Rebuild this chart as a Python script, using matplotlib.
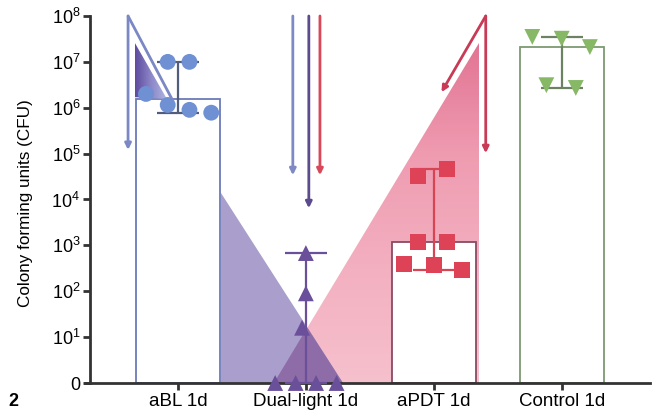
import numpy as np
import matplotlib
matplotlib.use('Agg')
import matplotlib.pyplot as plt
from matplotlib.patches import Polygon
from matplotlib.colors import LinearSegmentedColormap

plt.rcParams['font.family'] = ['Liberation Sans', 'DejaVu Sans']
plt.rcParams['mathtext.fontset'] = 'custom'
plt.rcParams['mathtext.rm'] = 'Liberation Sans'

# data (CFU per replicate)
categories = ['aBL 1d', 'Dual-light 1d', 'aPDT 1d', 'Control 1d']
abl = [1.0e7, 1.0e7, 2.0e6, 1.15e6, 9.0e5, 7.8e5]
dual = [0, 0, 0, 0, 16, 90, 680]
apdt = [3.2e4, 4.6e4, 1.2e3, 1.2e3, 390, 380, 290]
control = [3.5e7, 3.2e7, 2.1e7, 3.1e6, 2.7e6]
groups = [abl, dual, apdt, control]

# horizontal scatter of the replicate points
abl_dx = [-0.08, 0.09, -0.25, -0.08, 0.09, 0.26]
dual_dx = [-0.24, -0.08, 0.08, 0.24, -0.03, 0.0, 0.0]
apdt_dx = [-0.125, 0.10, -0.125, 0.10, -0.23, 0.0, 0.22]
control_dx = [-0.23, 0.0, 0.22, -0.12, 0.11]
offsets = [abl_dx, dual_dx, apdt_dx, control_dx]

markers = ['o', '^', 's', 'v']
pt_colors = ['#7090d4', '#6a4f9a', '#de4257', '#86b866']
bar_edges = ['#6c7ab8', '#6a4f9a', '#8a4a62', '#7d9a72']
err_colors = ['#525c7c', '#6a4f9a', '#d84552', '#6c8262']


def lg(v):
    return np.log10(np.maximum(np.asarray(v, dtype=float), 1.0))


def cross(p1, p2, p3, p4):
    # intersection of line p1-p2 with line p3-p4
    (x1, y1), (x2, y2), (x3, y3), (x4, y4) = p1, p2, p3, p4
    d = (x1-x2)*(y3-y4) - (y1-y2)*(x3-x4)
    t = ((x1-x3)*(y3-y4) - (y1-y3)*(x3-x4)) / d
    return [x1 + t*(x2-x1), y1 + t*(y2-y1)]


fig = plt.figure(figsize=(6.57, 4.19), dpi=100)
ax = fig.add_axes([90/657, 1-383/419, (650-90)/657, (383-16)/419])
ax.set_xlim(-0.6875, 3.69)
ax.set_ylim(0, 8)

# pink light cone (gradient, darker toward the apex)
pk_top, pk_base = [2.35, 7.41], [0.75, 0]
pink = LinearSegmentedColormap.from_list('pk', ['#f6c0cd', '#f3b0c0', '#ef9cb1', '#e27493'])
pink_tri = Polygon([pk_top, [2.35, 0], pk_base], closed=True,
                   facecolor='none', edgecolor='none')
ax.add_patch(pink_tri)
grad = np.linspace(0, 1, 256).reshape(-1, 1)
im = ax.imshow(grad, cmap=pink, origin='lower', aspect='auto',
               extent=[0.75, 2.35, 0, 7.41], zorder=1)
im.set_clip_path(pink_tri)

# lilac light cone
li_top, li_base = [0.336, 4.14], [1.29, 0]
ax.add_patch(Polygon([li_top, [0.336, 0], li_base], closed=True,
                     facecolor='#aa9fcc', edgecolor='none', zorder=1.5))
# where both cones meet
mid = cross(li_top, li_base, pk_top, pk_base)
ax.add_patch(Polygon([pk_base, mid, li_base], closed=True,
                     facecolor='#8e6ca8', edgecolor='none', zorder=1.6))

# small cone on aBL
blu = LinearSegmentedColormap.from_list('bl', ['#5e4a9e', '#8c86c8', '#aeb6e2'])
small_tri = Polygon([[-0.336, 7.41], [-0.336, 6.23], [-0.086, 6.19]], closed=True,
                    facecolor='none', edgecolor='none')
ax.add_patch(small_tri)
im2 = ax.imshow(np.linspace(0, 1, 256).reshape(1, -1), cmap=blu, aspect='auto',
                extent=[-0.336, -0.086, 6.19, 7.41], zorder=3.5)
im2.set_clip_path(small_tri)

x = np.arange(len(categories))
for i, vals in enumerate(groups):
    y = lg(vals)
    med = lg(np.median(vals))
    if med > 0:
        ax.bar(x[i], med, width=0.66, facecolor='white', edgecolor=bar_edges[i],
               linewidth=1.3, zorder=2)
    lo, hi = y.min(), y.max()
    ax.errorbar(x[i], med, yerr=[[med-lo], [hi-med]], fmt='none', ecolor=err_colors[i],
                elinewidth=1.6, capsize=15, capthick=1.6, zorder=3)
    ax.scatter(x[i] + np.array(offsets[i]), y, marker=markers[i], s=130,
               color=pt_colors[i], edgecolor='none', zorder=4, clip_on=False)


def arrow(x0, y0, x1, y1, c, head=True):
    ax.annotate('', xy=(x1, y1), xytext=(x0, y0),
                arrowprops=dict(arrowstyle='-|>' if head else '-', color=c, lw=2,
                                mutation_scale=9, shrinkA=0, shrinkB=0), zorder=5)


# light arrows
arrow(-0.39, 8.0, -0.39, 5.08, '#7b88c4')
arrow(-0.39, 8.0, -0.047, 6.19, '#7b88c4', head=False)
arrow(0.898, 8.0, 0.898, 4.53, '#7f8ac4')
arrow(1.023, 8.0, 1.023, 3.81, '#5b4b8c')
arrow(1.11, 8.0, 1.11, 4.53, '#d9485a')
arrow(2.406, 8.0, 2.06, 6.34, '#c83a55')
arrow(2.406, 8.0, 2.406, 5.01, '#c83a55')

ax.set_xticks(x)
ax.set_xticklabels(categories, fontsize=13.5)
ax.set_yticks(range(9))
ax.set_yticklabels(['0'] + [r'$\mathregular{10^{%d}}$' % k for k in range(1, 9)], fontsize=13)
ax.set_ylabel('Colony forming units (CFU)', fontsize=12.3)
ax.yaxis.set_label_coords(-0.102, 0.49)
ax.tick_params(axis='both', length=5, width=2, color='#333333', pad=2)
for s in ['top', 'right']:
    ax.spines[s].set_visible(False)
for s in ['left', 'bottom']:
    ax.spines[s].set_linewidth(2)
    ax.spines[s].set_color('#333333')
ax.spines['bottom'].set_bounds(-0.73, 3.69)

fig.text(0.012, 0.03, '2', fontsize=13, fontweight='bold')

fig.savefig('out.png', dpi=100)
